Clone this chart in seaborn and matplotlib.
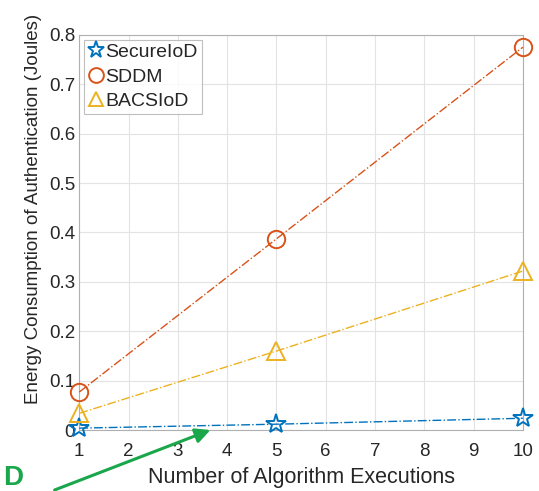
import pandas as pd
import matplotlib.pyplot as plt
import seaborn as sns

# Values
executions = [1, 5, 10]
secureiod = [0.004, 0.012, 0.024]
sddm = [0.077, 0.387, 0.775]
bacsiod = [0.034, 0.160, 0.322]

series_names = ["SecureIoD", "SDDM", "BACSIoD"]
colors = ["#0072BD", "#D95319", "#EDB120"]
markers = ["*", "o", "^"]

df = pd.DataFrame({
    "x": executions * 3,
    "y": secureiod + sddm + bacsiod,
    "series": [n for n in series_names for _ in executions],
})

sns.set_style("whitegrid")
plt.rcParams["font.family"] = ["Liberation Sans", "DejaVu Sans"]

fig = plt.figure(figsize=(5.39, 4.91), dpi=100)
ax = fig.add_axes([0.147, 0.124, 0.823, 0.805])

for name, col, mk in zip(series_names, colors, markers):
    sub = df[df["series"] == name]
    sns.lineplot(data=sub, x="x", y="y", ax=ax, color=col, linestyle="-.",
                 linewidth=1.0, marker=mk, markersize=15 if mk == "*" else 12.5,
                 markerfacecolor="none", markeredgecolor=col, markeredgewidth=1.4,
                 label=name, clip_on=False, zorder=3)

ax.set_xlim(1, 10)
ax.set_ylim(0, 0.8)
ax.set_xticks(range(1, 11))
ax.set_yticks([0, 0.1, 0.2, 0.3, 0.4, 0.5, 0.6, 0.7, 0.8])
ax.set_yticklabels(["0", "0.1", "0.2", "0.3", "0.4", "0.5", "0.6", "0.7", "0.8"])
ax.tick_params(labelsize=13.5, colors="#262626", direction="in", length=4, width=0.6)
ax.tick_params(axis="x", pad=9)
ax.tick_params(axis="y", pad=3)
ax.grid(True, color="#e3e3e3", linewidth=0.8)
for s in ax.spines.values():
    s.set_color("#b0b0b0")
    s.set_linewidth(0.8)

ax.set_xlabel("Number of Algorithm Executions", fontsize=15.5, color="#262626", labelpad=5)
ax.set_ylabel("Energy Consumption of Authentication (Joules)", fontsize=13.5, color="#262626")
ax.yaxis.set_label_coords(-0.083, 0.56)

leg = ax.legend(loc="upper left", fontsize=14, frameon=True, fancybox=False,
                borderpad=0.2, handlelength=0.8, handletextpad=0.1, labelspacing=0.35,
                borderaxespad=0.25, markerscale=0.85)
leg.get_frame().set_edgecolor("#b0b0b0")
leg.get_frame().set_linewidth(0.8)
for line in leg.get_lines():
    line.set_linestyle("none")

# green annotation arrow overlaid on the figure
ax.annotate("", xy=(213 / 539, 1 - 429 / 491), xycoords="figure fraction",
            xytext=(52 / 539, 1 - 491 / 491), textcoords="figure fraction",
            arrowprops=dict(arrowstyle="-|>", color="#1aa64a", lw=2.2, mutation_scale=22),
            annotation_clip=False)
fig.text(0.005, 0.0, "D", color="#1aa64a", fontsize=20, fontweight="bold",
         ha="left", va="bottom")

fig.savefig("out.png", dpi=100)
